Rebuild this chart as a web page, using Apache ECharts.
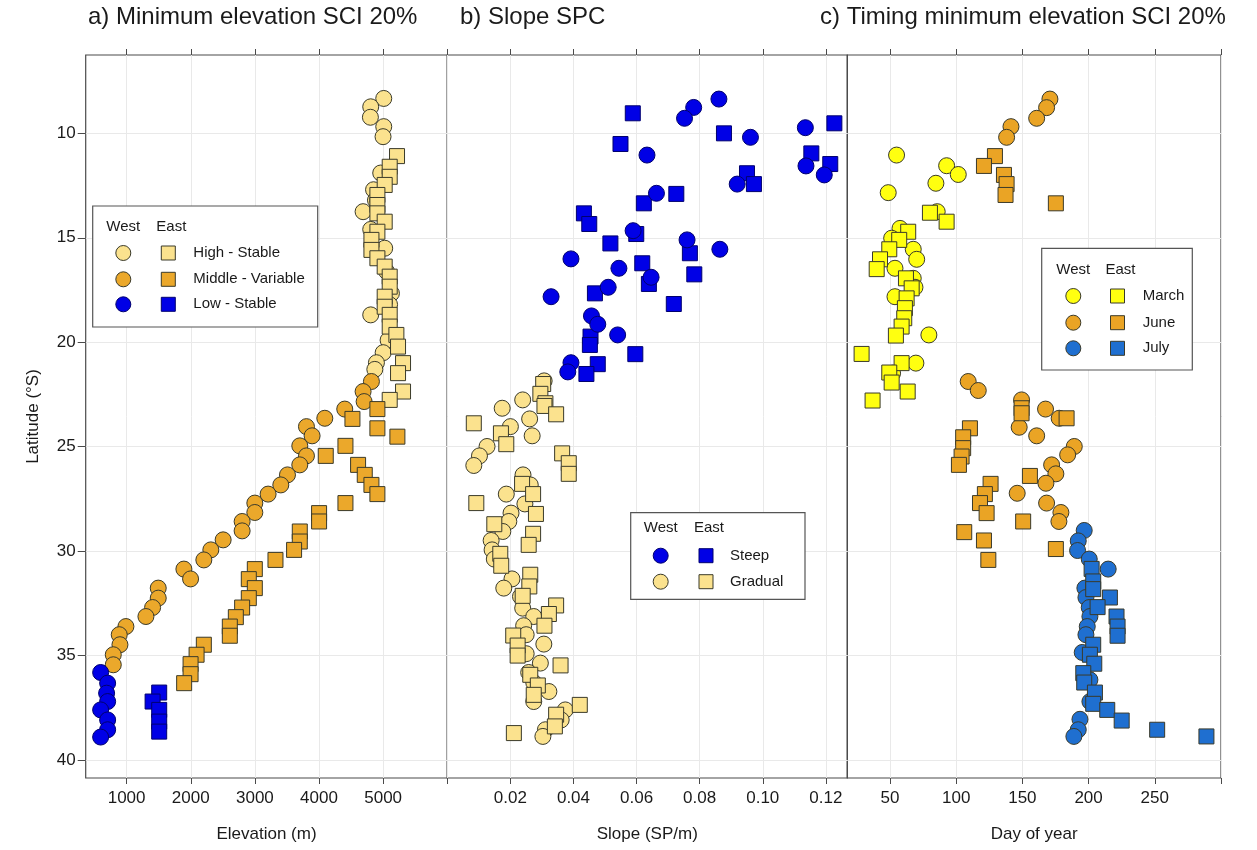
<!DOCTYPE html>
<html>
<head>
<meta charset="utf-8">
<script src="https://cdn.jsdelivr.net/npm/echarts@6/dist/echarts.min.js"></script>
<style>html,body{margin:0;padding:0;background:#fff}#c{width:1257px;height:850px}</style>
</head>
<body>
<div id="c"></div>
<script>
// ---------- tick labels ----------
const latTicks = [10, 15, 20, 25, 30, 35, 40];
const elevTicks = [1000, 2000, 3000, 4000, 5000];
const elevTickMarks = [1000, 2000, 3000, 4000, 5000, 6000];
const slopeTicks = [0.02, 0.04, 0.06, 0.08, 0.10, 0.12];
const slopeTickMarks = [0, 0.02, 0.04, 0.06, 0.08, 0.10, 0.12];
const dayTicks = [50, 100, 150, 200, 250];
const dayTickMarks = [50, 100, 150, 200, 250, 300];

// ---------- panel a: minimum elevation [elevation m, latitude °S] ----------
const aHighWest = [[5009,8.33],[4806,8.73],[4801,9.23],[5009,9.68],[4998,10.16],[4962,11.9],[4850,12.7],[4880,13.2],[4687,13.75],[4806,14.6],[5024,15.5],[5050,16.6],[5129,17.66],[5100,18.2],[4806,18.69],[5077,19.9],[5000,20.5],[4895,20.98],[4870,21.3]];
const aHighEast = [[5216,11.09],[5102,11.6],[5102,12.08],[5024,12.47],[4910,12.95],[4910,13.43],[4910,13.83],[5024,14.23],[4910,14.71],[4817,15.1],[4817,15.58],[4910,15.98],[5024,16.38],[5102,16.86],[5102,17.34],[5024,17.82],[5024,18.3],[5102,18.69],[5102,19.25],[5206,19.65],[5232,20.21],[5310,21.0],[5232,21.48],[5310,22.36],[5102,22.76]];
const aMidWest = [[4817,21.88],[4687,22.36],[4703,22.84],[4401,23.2],[4090,23.64],[3804,24.04],[3892,24.48],[3700,24.96],[3804,25.44],[3700,25.87],[3508,26.35],[3404,26.83],[3206,27.27],[2999,27.7],[2999,28.15],[2801,28.58],[2801,29.03],[2505,29.46],[2313,29.94],[2204,30.42],[1893,30.86],[1997,31.33],[1493,31.77],[1493,32.25],[1405,32.7],[1301,33.13],[989,33.61],[885,34.0],[896,34.48],[792,34.96],[792,35.44]];
const aMidEast = [[4910,23.2],[4521,23.67],[4910,24.12],[5222,24.52],[4412,24.96],[4105,25.44],[4609,25.87],[4713,26.35],[4817,26.83],[4910,27.27],[4412,27.7],[4001,28.18],[4001,28.58],[3700,29.06],[3700,29.54],[3611,29.94],[3321,30.42],[2999,30.86],[2905,31.34],[2999,31.77],[2905,32.25],[2801,32.7],[2703,33.16],[2609,33.61],[2609,34.05],[2204,34.48],[2091,34.96],[1997,35.41],[1997,35.89],[1897,36.32]];
const aLowWest = [[595,35.81],[704,36.32],[688,36.8],[704,37.2],[595,37.6],[704,38.08],[704,38.55],[595,38.9]];
const aLowEast = [[1508,36.77],[1405,37.2],[1508,37.6],[1508,38.16],[1508,38.64]];

// ---------- panel b: slope SPC [slope SP/m, latitude °S] ----------
const bSteepWest = [[0.0861,8.36],[0.0781,8.76],[0.0752,9.28],[0.1135,9.73],[0.0961,10.19],[0.0633,11.04],[0.1137,11.56],[0.1195,11.99],[0.0919,12.43],[0.0663,12.87],[0.0589,14.66],[0.076,15.1],[0.0864,15.55],[0.0392,16.01],[0.0544,16.46],[0.0646,16.89],[0.051,17.37],[0.0329,17.82],[0.0457,18.74],[0.0477,19.14],[0.054,19.65],[0.0392,20.98],[0.0382,21.42]];
const bSteepEast = [[0.0588,9.04],[0.1227,9.52],[0.0877,10.0],[0.0549,10.51],[0.1154,10.96],[0.1214,11.47],[0.095,11.91],[0.0972,12.43],[0.0726,12.9],[0.0623,13.35],[0.0433,13.83],[0.045,14.34],[0.0599,14.82],[0.0517,15.27],[0.0769,15.74],[0.0618,16.22],[0.0783,16.75],[0.0639,17.21],[0.0468,17.66],[0.0718,18.17],[0.0454,19.73],[0.0452,20.13],[0.0596,20.57],[0.0477,21.05],[0.0441,21.52]];
const bGradWest = [[0.0307,21.85],[0.0239,22.76],[0.0174,23.16],[0.0261,23.67],[0.02,24.04],[0.0269,24.48],[0.0126,24.99],[0.0102,25.44],[0.0084,25.9],[0.024,26.35],[0.0263,26.83],[0.0187,27.27],[0.0246,27.74],[0.0202,28.18],[0.0195,28.58],[0.0176,29.06],[0.0139,29.49],[0.0142,29.94],[0.0149,30.38],[0.0205,31.33],[0.0179,31.77],[0.0232,32.17],[0.0239,32.73],[0.0274,33.13],[0.0242,33.57],[0.025,34.0],[0.0306,34.45],[0.025,34.91],[0.0295,35.36],[0.0258,35.81],[0.0274,36.29],[0.0322,36.72],[0.0274,37.2],[0.0374,37.6],[0.0361,38.08],[0.0311,38.55],[0.0303,38.87]];
const bGradEast = [[0.0304,22.0],[0.0295,22.47],[0.0311,22.92],[0.0308,23.05],[0.0345,23.45],[0.0084,23.88],[0.017,24.36],[0.0187,24.88],[0.0364,25.32],[0.0385,25.79],[0.0385,26.3],[0.0237,26.78],[0.0272,27.27],[0.0092,27.7],[0.0281,28.22],[0.0149,28.71],[0.0272,29.17],[0.0258,29.7],[0.0168,30.13],[0.0171,30.7],[0.0263,31.13],[0.026,31.69],[0.0239,32.14],[0.0345,32.6],[0.0322,33.01],[0.0308,33.57],[0.0209,34.04],[0.0223,34.52],[0.0223,35.0],[0.0359,35.47],[0.0263,35.92],[0.0287,36.43],[0.0274,36.88],[0.042,37.36],[0.0345,37.83],[0.0341,38.39],[0.0211,38.71]];

// ---------- panel c: timing [day of year, latitude °S] ----------
const cMarchWest = [[55,11.04],[92.8,11.55],[101.6,11.97],[84.7,12.39],[48.7,12.84],[85.7,13.75],[57.6,14.55],[51.3,15.02],[67.6,15.55],[70.2,16.03],[53.8,16.46],[67.6,16.94],[68.9,17.37],[53.8,17.82],[79.4,19.65],[69.6,21.0],[52,21.48]];
const cMarchEast = [[80.2,13.8],[92.8,14.23],[63.8,14.71],[57,15.1],[49.5,15.55],[42.5,16.03],[40,16.5],[62.1,16.94],[66.4,17.42],[62.6,17.9],[61.3,18.37],[60.8,18.85],[58.8,19.25],[54.5,19.68],[28.6,20.56],[58.8,21.0],[49.5,21.45],[51.3,21.93],[63.4,22.36],[36.9,22.79]];
const cJuneWest = [[170.8,8.36],[168.3,8.77],[160.8,9.28],[141.4,9.68],[138.1,10.19],[109.1,21.88],[116.7,22.31],[149.4,22.76],[167.5,23.2],[177.8,23.64],[147.6,24.07],[160.8,24.48],[189.2,24.99],[184.2,25.39],[172.1,25.87],[175.3,26.3],[167.8,26.75],[146.1,27.23],[168.3,27.7],[179.1,28.15],[177.6,28.58]];
const cJuneEast = [[129.3,11.09],[121,11.56],[136.1,11.99],[138.1,12.43],[137.3,12.95],[175.3,13.35],[149.4,23.16],[149.4,23.4],[183.4,23.64],[110.4,24.12],[105.3,24.55],[105.3,25.07],[104.1,25.47],[102.1,25.87],[155.7,26.4],[126,26.78],[121.7,27.27],[118,27.7],[123,28.18],[150.6,28.58],[106.1,29.09],[121,29.49],[175.3,29.9],[124.3,30.42]];
const cJulyWest = [[196.7,29.01],[192.2,29.51],[191.7,29.97],[200.5,30.38],[214.8,30.86],[197.2,31.77],[198,32.22],[200.5,32.7],[201,33.13],[199,33.61],[198,34.0],[195.2,34.85],[201,36.16],[201,37.2],[193.5,38.05],[192.2,38.55],[188.9,38.87]];
const cJulyEast = [[202.3,30.85],[203.5,31.45],[203.5,31.82],[216.1,32.22],[206.8,32.68],[221.1,33.13],[221.9,33.61],[221.9,34.05],[203.5,34.48],[201,34.96],[204.3,35.39],[196,35.84],[196.7,36.29],[204.8,36.77],[203.5,37.31],[214.1,37.6],[225,38.11],[251.8,38.55],[289,38.87]];

// ---------- styles ----------
const FONT = "'Liberation Sans', Arial, sans-serif";
const C_PALE = '#fbe28e', C_ORANGE = '#eba82b', C_BLUE = '#0000e6';
const C_YELLOW = '#ffff10', C_JUNE = '#eaa425', C_JULY = '#1f6fd0';
const EDGE = '#3a3a2a';
const TXT = '#1a1a1a';
const GRIDC = '#e9e9e9';
const FRAME = '#4a4a4a';

const LAT_MIN = 6.25, LAT_MAX = 40.86;
const TOP = 55, BOTTOM_Y = 778;
const panels = [
  {left: 85.7, right: 447.3, min: 362, max: 6000, ticks: elevTicks, marks: elevTickMarks, name: 'Elevation (m)', fmt: v => String(v)},
  {left: 447.3, right: 847.3, min: 0, max: 0.1268, ticks: slopeTicks, marks: slopeTickMarks, name: 'Slope (SP/m)', fmt: v => v.toFixed(2)},
  {left: 847.3, right: 1221, min: 17.8, max: 300, ticks: dayTicks, marks: dayTickMarks, name: 'Day of year', fmt: v => String(v)}
];

const grids = panels.map(p => ({left: p.left, width: p.right - p.left, top: TOP, height: BOTTOM_Y - TOP, show: true, borderColor: FRAME, borderWidth: 1.2, backgroundColor: 'transparent', containLabel: false}));

const xAxes = [];
panels.forEach((p, i) => {
  xAxes.push({
    gridIndex: i, type: 'value', position: 'bottom', min: p.min, max: p.max,
    axisLine: {show: false},
    axisTick: {show: true, customValues: p.marks, length: 6, lineStyle: {color: FRAME, width: 1}},
    axisLabel: {customValues: p.ticks, formatter: p.fmt, color: TXT, fontFamily: FONT, fontSize: 17, margin: 12},
    splitLine: {show: true, lineStyle: {color: GRIDC, width: 1}},
    name: p.name, nameLocation: 'middle', nameGap: 48,
    nameTextStyle: {color: TXT, fontFamily: FONT, fontSize: 17}
  });
});
panels.forEach((p, i) => {
  xAxes.push({
    gridIndex: i, type: 'value', position: 'top', min: p.min, max: p.max,
    axisLine: {show: false},
    axisTick: {show: true, customValues: p.marks, length: 6, lineStyle: {color: FRAME, width: 1}},
    axisLabel: {show: false}, splitLine: {show: false}
  });
});

const yAxes = panels.map((p, i) => ({
  gridIndex: i, type: 'value', inverse: true, min: LAT_MIN, max: LAT_MAX,
  axisLine: {show: false},
  axisTick: {show: i === 0, customValues: latTicks, length: 8, lineStyle: {color: FRAME}},
  axisLabel: {show: i === 0, customValues: latTicks, color: TXT, fontFamily: FONT, fontSize: 17, margin: 10},
  splitLine: {show: true, lineStyle: {color: GRIDC, width: 1}},
  name: i === 0 ? 'Latitude (°S)' : '', nameLocation: 'middle', nameGap: 44, nameRotate: 90,
  nameTextStyle: {color: TXT, fontFamily: FONT, fontSize: 17}
}));

function sc(name, data, idx, shape, color, size) {
  return {
    name, type: 'scatter', xAxisIndex: idx, yAxisIndex: idx, data,
    symbol: shape, symbolSize: size,
    itemStyle: {color, borderColor: EDGE, borderWidth: 1, opacity: 1},
    emphasis: {disabled: true}, silent: true
  };
}
const CS = 16, SS = 15;
const series = [
  sc('aHighWest', aHighWest, 0, 'circle', C_PALE, CS),
  sc('aHighEast', aHighEast, 0, 'rect', C_PALE, SS),
  sc('aMidWest', aMidWest, 0, 'circle', C_ORANGE, CS),
  sc('aMidEast', aMidEast, 0, 'rect', C_ORANGE, SS),
  sc('aLowWest', aLowWest, 0, 'circle', C_BLUE, CS),
  sc('aLowEast', aLowEast, 0, 'rect', C_BLUE, SS),
  sc('bGradWest', bGradWest, 1, 'circle', C_PALE, CS),
  sc('bGradEast', bGradEast, 1, 'rect', C_PALE, SS),
  sc('bSteepEast', bSteepEast, 1, 'rect', C_BLUE, SS),
  sc('bSteepWest', bSteepWest, 1, 'circle', C_BLUE, CS),
  sc('cMarchWest', cMarchWest, 2, 'circle', C_YELLOW, CS),
  sc('cMarchEast', cMarchEast, 2, 'rect', C_YELLOW, SS),
  sc('cJuneWest', cJuneWest, 2, 'circle', C_JUNE, CS),
  sc('cJuneEast', cJuneEast, 2, 'rect', C_JUNE, SS),
  sc('cJulyWest', cJulyWest, 2, 'circle', C_JULY, CS),
  sc('cJulyEast', cJulyEast, 2, 'rect', C_JULY, SS)
];
series.forEach(s => { if (s.name.startsWith('bSteep') || s.name.startsWith('aLow')) s.itemStyle.borderColor = '#00006e'; });

// ---------- legends (drawn as graphics) ----------
function legend(box, westX, eastX, headY, labelX, rows) {
  const els = [];
  els.push({type: 'rect', shape: {x: box[0], y: box[1], width: box[2], height: box[3]}, style: {fill: '#fff', stroke: '#555', lineWidth: 1.2}, z: 100});
  els.push({type: 'text', x: westX, y: headY, style: {text: 'West', fill: TXT, font: '15px ' + FONT, align: 'center', verticalAlign: 'middle'}, z: 101});
  els.push({type: 'text', x: eastX, y: headY, style: {text: 'East', fill: TXT, font: '15px ' + FONT, align: 'center', verticalAlign: 'middle'}, z: 101});
  rows.forEach(r => {
    els.push({type: 'circle', shape: {cx: westX, cy: r.y, r: 7.5}, style: {fill: r.color, stroke: r.edge || EDGE, lineWidth: 1}, z: 101});
    els.push({type: 'rect', shape: {x: eastX - 7 - (westX < eastX ? 3 : 0), y: r.y - 7, width: 14, height: 14}, style: {fill: r.color, stroke: r.edge || EDGE, lineWidth: 1}, z: 101});
    els.push({type: 'text', x: labelX, y: r.y, style: {text: r.label, fill: TXT, font: '15px ' + FONT, align: 'left', verticalAlign: 'middle'}, z: 101});
  });
  return els;
}
const legA = legend([92.7, 206, 225, 121], 123.3, 171.3, 227, 193.3, [
  {y: 253, color: C_PALE, label: 'High - Stable'},
  {y: 279.3, color: C_ORANGE, label: 'Middle - Variable'},
  {y: 304.3, color: C_BLUE, edge: '#00006e', label: 'Low - Stable'}]);
const legB = legend([630.7, 512.7, 174.3, 86.6], 660.7, 709, 528.3, 730, [
  {y: 555.7, color: C_BLUE, edge: '#00006e', label: 'Steep'},
  {y: 581.7, color: C_PALE, label: 'Gradual'}]);
const legC = legend([1041.7, 248.3, 150.6, 121.7], 1073.3, 1120.5, 270, 1142.7, [
  {y: 296, color: C_YELLOW, label: 'March'},
  {y: 322.7, color: C_JUNE, label: 'June'},
  {y: 348.3, color: C_JULY, label: 'July'}]);

const titleStyle = {color: TXT, fontFamily: FONT, fontSize: 24, fontWeight: 'normal'};
const option = {
  backgroundColor: '#fff',
  animation: false,
  title: [
    {text: 'a) Minimum elevation SCI 20%', left: 88, top: 5, textStyle: titleStyle, padding: 0},
    {text: 'b) Slope SPC', left: 460, top: 5, textStyle: titleStyle, padding: 0},
    {text: 'c) Timing minimum elevation SCI 20%', left: 820, top: 5, textStyle: titleStyle, padding: 0}
  ],
  grid: grids,
  xAxis: xAxes,
  yAxis: yAxes,
  series,
  graphic: {elements: [...legA, ...legB, ...legC]}
};
const chart = echarts.init(document.getElementById('c'), null, {renderer: 'canvas'});
chart.setOption(option);
</script>
</body>
</html>
